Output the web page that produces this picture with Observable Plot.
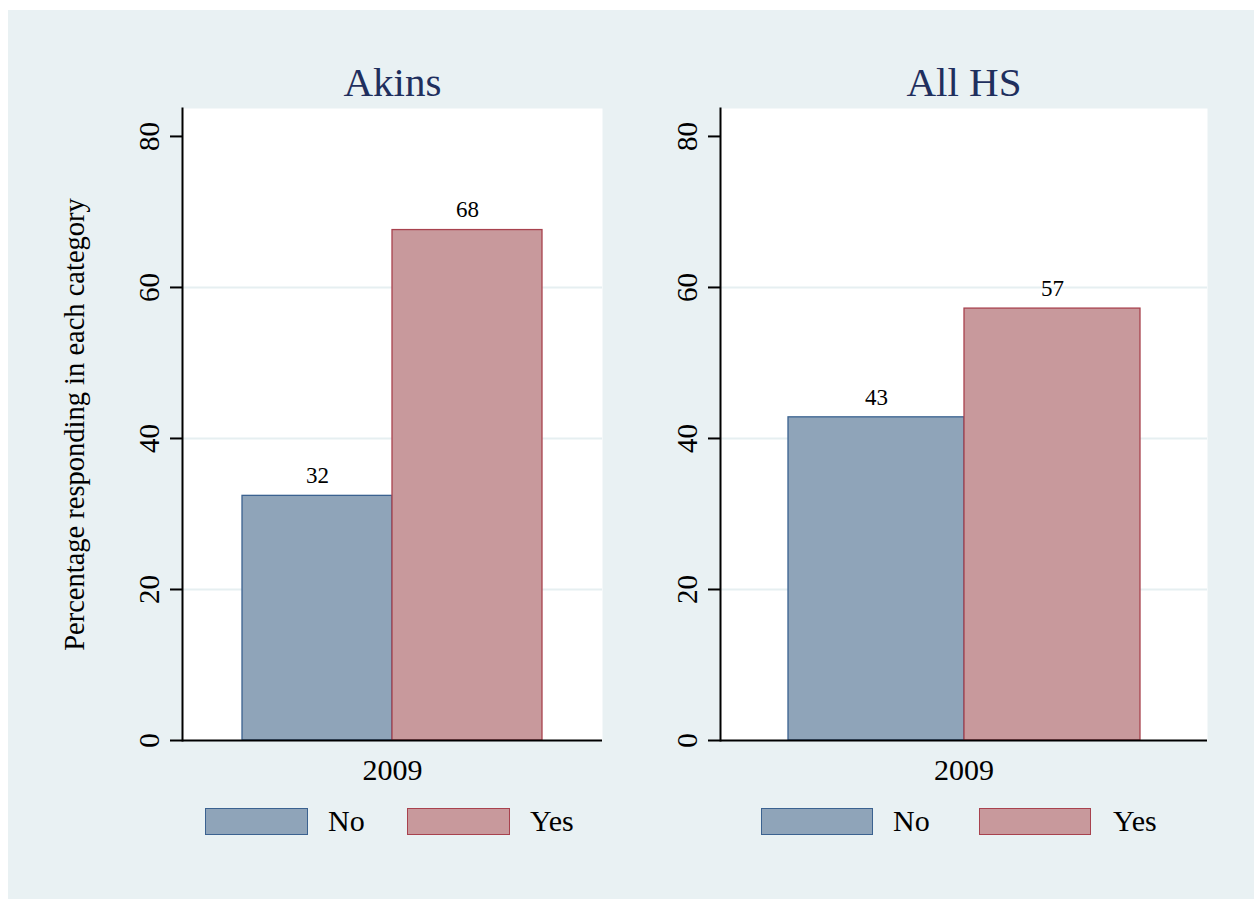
<!DOCTYPE html>
<html>
<head>
<meta charset="utf-8">
<script src="https://cdn.jsdelivr.net/npm/d3@7"></script>
<script src="https://cdn.jsdelivr.net/npm/@observablehq/plot@0.6"></script>
<style>
  html, body { margin: 0; padding: 0; background: #ffffff; }
  #root { position: relative; width: 1254px; height: 899px; overflow: hidden; background: #ffffff; font-family: "Liberation Serif", "DejaVu Serif", serif; }
  #bg { position: absolute; left: 8px; top: 10px; width: 1246px; height: 889px; background: #e9f1f3; }
  .panel { position: absolute; top: 0; }
  .legend { position: absolute; top: 808px; height: 27px; }
  .sw { position: absolute; top: 0; height: 25px; box-sizing: content-box; }
  .lt { position: absolute; top: -2px; font-size: 30px; line-height: 30px; color: #000; white-space: nowrap; }
</style>
</head>
<body>
<div id="root">
  <div id="bg"></div>
</div>
<script>
// ---- data ----
const panelTitles = ["Akins", "All HS"];
const categories = ["No", "Yes"];
const akinsValues = [32.4, 67.6];
const allHSValues = [42.8, 57.2];
const yTicks = [0, 20, 40, 60, 80];
const gridTicks = [20, 40, 60];
const xGroupLabel = "2009";
const yTitle = "Percentage responding in each category";

// ---- styles ----
const fillColors = {No: "#8fa4b9", Yes: "#c8999c"};
const strokeColors = {No: "#3b6290", Yes: "#a8424e"};
const font = "Liberation Serif";

function panel({title, values, width, marginLeft, marginRight, paddingOuter, showYTitle}) {
  const data = categories.map((c, i) => ({cat: c, value: values[i]}));
  const marks = [
    Plot.frame({fill: "white", stroke: null}),
    Plot.ruleY(gridTicks, {stroke: "#e6eff1", strokeWidth: 2}),
    Plot.barY(data, {
      x: "cat", y: "value",
      fill: d => fillColors[d.cat],
      stroke: d => strokeColors[d.cat],
      strokeWidth: 1.3, inset: 0
    }),
    Plot.text(data, {
      x: "cat", y: "value", text: d => d3.format(".0f")(d.value),
      dy: -20, lineAnchor: "middle", fontSize: 23, fill: "black"
    }),
    Plot.frame({anchor: "left", stroke: "black", strokeWidth: 2}),
    Plot.ruleY([0], {stroke: "black", strokeWidth: 2.2}),
    Plot.axisY(yTicks, {
      tickSize: 12, tickRotate: -90, tickPadding: 12, fontSize: 29,
      stroke: "black", strokeWidth: 2, fill: "black", label: null
    }),
    Plot.text([xGroupLabel], {
      frameAnchor: "bottom", dy: 29.5, lineAnchor: "middle", fontSize: 30, fill: "black"
    }),
    Plot.text([title], {
      frameAnchor: "top", dy: -26, lineAnchor: "middle", fontSize: 41, fill: "#1f2f5e"
    })
  ];
  if (showYTitle) {
    marks.push(Plot.text([yTitle], {
      frameAnchor: "left", dx: -108, rotate: -90, textAnchor: "middle", lineAnchor: "middle", fontSize: 28.5, fill: "black"
    }));
  }
  return Plot.plot({
    width, height: 800,
    marginTop: 108, marginBottom: 60, marginLeft, marginRight,
    style: {background: "transparent", fontFamily: font, color: "black", overflow: "visible"},
    x: {domain: categories, paddingInner: 0, paddingOuter, axis: null},
    y: {domain: [0, 83.7], axis: null},
    marks
  });
}

function legend(left, swW, items) {
  const lg = document.createElement("div");
  lg.className = "legend";
  lg.style.left = left + "px";
  items.forEach(([cat, swX, txtX]) => {
    const sw = document.createElement("div");
    sw.className = "sw";
    sw.style.left = swX + "px";
    sw.style.width = (swW - 2) + "px";
    sw.style.background = fillColors[cat];
    sw.style.border = "1.3px solid " + strokeColors[cat];
    lg.appendChild(sw);
    const t = document.createElement("div");
    t.className = "lt";
    t.style.left = txtX + "px";
    t.textContent = cat;
    lg.appendChild(t);
  });
  return lg;
}

const root = document.getElementById("root");

const p1 = panel({title: panelTitles[0], values: akinsValues, width: 640, marginLeft: 182, marginRight: 38, paddingOuter: 0.4, showYTitle: true});
const d1 = document.createElement("div");
d1.className = "panel"; d1.style.left = "0px";
d1.appendChild(p1);
root.appendChild(d1);

const p2 = panel({title: panelTitles[1], values: allHSValues, width: 614, marginLeft: 80, marginRight: 47, paddingOuter: 0.38, showYTitle: false});
const d2 = document.createElement("div");
d2.className = "panel"; d2.style.left = "640px";
d2.appendChild(p2);
root.appendChild(d2);

root.appendChild(legend(205, 103, [["No", 0, 123], ["Yes", 202, 325]]));
root.appendChild(legend(761, 112, [["No", 0, 132], ["Yes", 218, 352]]));
</script>
</body>
</html>
